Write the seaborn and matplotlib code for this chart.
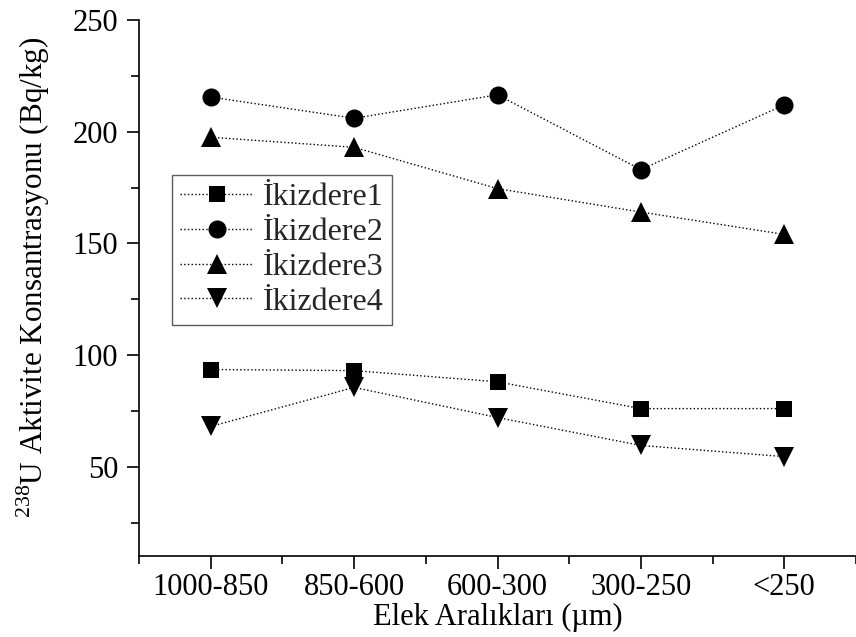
import numpy as np
import pandas as pd
import matplotlib
matplotlib.use("Agg")
import matplotlib.pyplot as plt
import seaborn as sns
from matplotlib.ticker import MultipleLocator

sns.set_theme(style="ticks")
plt.rcParams["font.family"] = ["Liberation Serif", "DejaVu Serif"]
plt.rcParams["mathtext.fontset"] = "custom"
plt.rcParams["mathtext.rm"] = "Liberation Serif"

# Sieve size ranges (µm)
categories = ["1000-850", "850-600", "600-300", "300-250", "<250"]

# 238U activity concentration (Bq/kg) per sample site
ikizdere1 = [93.5, 93, 88, 76, 76]
ikizdere2 = [215.5, 206, 216.5, 183, 212]
ikizdere3 = [197.5, 193, 174.5, 164, 154]
ikizdere4 = [68, 85.5, 72, 59.5, 54.5]

series_names = ["İkizdere1", "İkizdere2", "İkizdere3", "İkizdere4"]
series_values = [ikizdere1, ikizdere2, ikizdere3, ikizdere4]
markers = ["s", "o", "^", "v"]
marker_sizes = [11, 13, 15, 15]

FS = 22

fig = plt.figure(figsize=(8.56, 6.37), dpi=100)
ax = fig.add_axes([139 / 856, 1 - 556 / 637, 717 / 856, 536 / 637])

for name, vals, mk, ms in zip(series_names, series_values, markers, marker_sizes):
    df = pd.DataFrame({"x": np.arange(len(categories)), "y": vals})
    sns.lineplot(data=df, x="x", y="y", ax=ax, color="black", linestyle=":",
                 linewidth=1.0, marker=mk, markersize=ms, markeredgewidth=0,
                 label=name, sort=False)

ax.set_xlim(-0.5, 4.5)
ax.set_ylim(10, 250)
ax.set_xticks(np.arange(len(categories)))
ax.set_xticklabels(categories)
ax.xaxis.set_minor_locator(MultipleLocator(0.5))
ax.yaxis.set_minor_locator(MultipleLocator(25))
ax.set_yticks([50, 100, 150, 200, 250])

for side in ("top", "right"):
    ax.spines[side].set_visible(False)
for side in ("left", "bottom"):
    ax.spines[side].set_color("black")
    ax.spines[side].set_linewidth(1.2)

ax.tick_params(axis="both", which="major", direction="out", length=9, width=1.2,
               labelsize=FS, color="black", labelcolor="black")
ax.tick_params(axis="both", which="minor", direction="out", length=5.5, width=1.2,
               color="black")
ax.tick_params(axis="x", which="major", pad=3.5)
ax.tick_params(axis="y", which="major", pad=6)

ax.set_xlabel("Elek Aralıkları (µm)", fontsize=FS, color="black")
ax.xaxis.set_label_coords(0.5, -0.088)
ax.set_ylabel(r"$^{\mathrm{238}}$U Aktivite Konsantrasyonu (Bq/kg)", fontsize=22.4,
              color="black")
ax.yaxis.set_label_coords(-0.122, 0.52)

leg = ax.legend(loc="upper left", bbox_to_anchor=(0.046, 0.711), fontsize=23,
                frameon=True, fancybox=False, handlelength=2.3, handletextpad=0.3,
                labelspacing=0.17, borderpad=0.25, borderaxespad=0)
leg.get_frame().set_edgecolor("#333333")
leg.get_frame().set_linewidth(1.0)

fig.savefig("out.png", dpi=100, facecolor="white")
